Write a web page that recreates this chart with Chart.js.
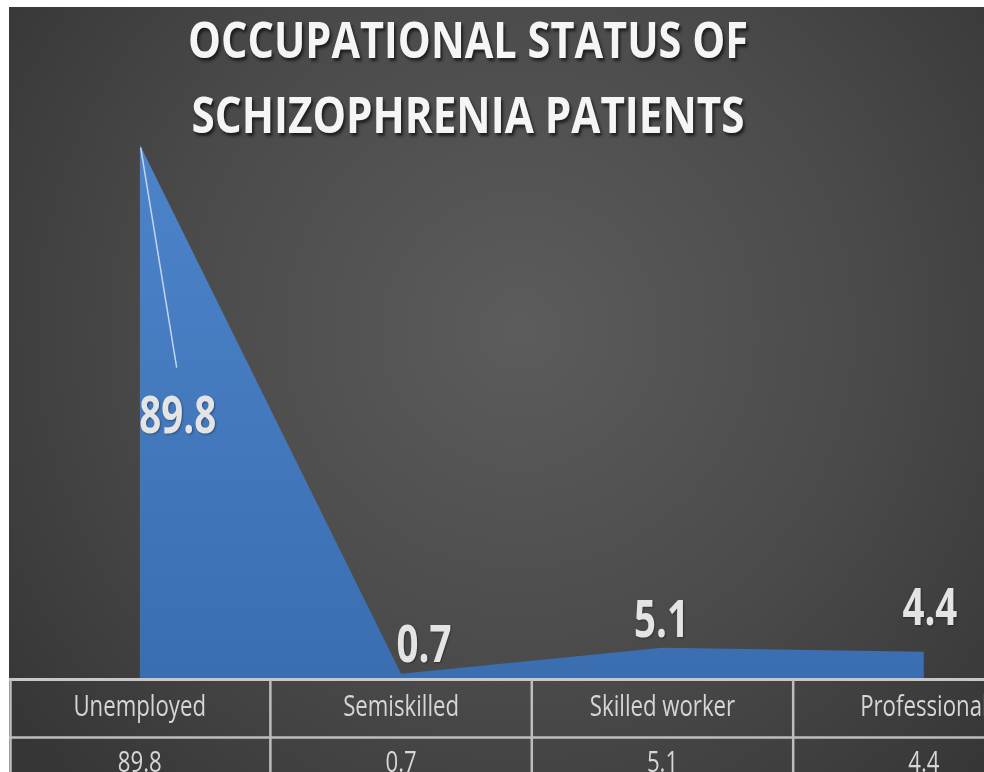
<!DOCTYPE html>
<html>
<head>
<meta charset="utf-8">
<script src="https://cdn.jsdelivr.net/npm/chart.js@4.4.0/dist/chart.umd.min.js"></script>
<style>
  html, body { margin: 0; padding: 0; background: #fff; }
  canvas { display: block; }
</style>
</head>
<body>
<canvas id="chart" width="984" height="772"></canvas>
<script>
// Data
const categories  = ['Unemployed', 'Semiskilled', 'Skilled worker', 'Professional'];
const percentages = [89.8, 0.7, 5.1, 4.4];
const titleLines  = ['OCCUPATIONAL STATUS OF', 'SCHIZOPHRENIA PATIENTS'];

const FONT = '"Open Sans", "DejaVu Sans Condensed", sans-serif';
const SQUEEZE = 0.74;   // the reference text is horizontally condensed

// draw text compressed horizontally around x
function squeezeText(ctx, text, x, y, sx) {
  ctx.save();
  ctx.translate(x, y);
  ctx.scale(sx, 1);
  ctx.fillText(text, 0, 0);
  ctx.restore();
}

// dark radial backdrop, white margin top/left like the cropped screenshot
const backdrop = {
  id: 'backdrop',
  beforeDraw(chart) {
    const { ctx, width, height } = chart;
    ctx.save();
    ctx.fillStyle = '#ffffff';
    ctx.fillRect(0, 0, width, height);
    const g = ctx.createRadialGradient(520, 330, 0, 520, 330, 640);
    g.addColorStop(0, '#5c5c5c');
    g.addColorStop(0.55, '#4a4a4a');
    g.addColorStop(1, '#363636');
    ctx.fillStyle = g;
    ctx.fillRect(9, 7, width - 9, height - 7);
    ctx.restore();
  }
};

// soft shadow under the area
const areaShadow = {
  id: 'areaShadow',
  beforeDatasetDraw(chart) {
    const ctx = chart.ctx;
    ctx.save();
    ctx.shadowColor = 'rgba(0,0,0,0.55)';
    ctx.shadowBlur = 7;
    ctx.shadowOffsetX = 3;
    ctx.shadowOffsetY = 4;
  },
  afterDatasetDraw(chart) {
    chart.ctx.restore();
  }
};

// value labels (positions follow the points, offsets mimic Excel's placement)
const LABEL_OFFSETS = [[38, 288], [23, -12], [-1, -11], [6, -27]];
const valueLabels = {
  id: 'valueLabels',
  afterDatasetsDraw(chart) {
    const { ctx } = chart;
    const pts = chart.getDatasetMeta(0).data;
    ctx.save();
    // leader line for the first label
    const p0 = pts[0];
    ctx.strokeStyle = 'rgba(215,228,245,0.85)';
    ctx.lineWidth = 1.5;
    ctx.beginPath();
    ctx.moveTo(p0.x + 1, p0.y + 3);
    ctx.lineTo(p0.x + 37, p0.y + 223);
    ctx.stroke();

    ctx.font = 'bold 52px ' + FONT;
    ctx.textAlign = 'center';
    ctx.textBaseline = 'alphabetic';
    ctx.fillStyle = '#e4e4e4';
    ctx.shadowColor = 'rgba(0,0,0,0.35)';
    ctx.shadowBlur = 2;
    ctx.shadowOffsetX = 1;
    ctx.shadowOffsetY = 1;
    pts.forEach((p, i) => {
      const [dx, dy] = LABEL_OFFSETS[i];
      squeezeText(ctx, String(percentages[i]), p.x + dx, p.y + dy, SQUEEZE);
    });
    ctx.restore();
  }
};

// title + data table under the plot
const titleAndTable = {
  id: 'titleAndTable',
  afterDraw(chart) {
    const { ctx, chartArea, width } = chart;
    const xs = chart.scales.x;
    ctx.save();

    // title
    ctx.font = 'bold 50px ' + FONT;
    ctx.textAlign = 'center';
    ctx.textBaseline = 'alphabetic';
    ctx.fillStyle = '#f5f5f5';
    ctx.shadowColor = 'rgba(0,0,0,0.6)';
    ctx.shadowBlur = 3;
    ctx.shadowOffsetX = 2;
    ctx.shadowOffsetY = 3;
    const tw = [560, 553];
    titleLines.forEach((line, i) => {
      const sx = tw[i] / ctx.measureText(line).width;
      squeezeText(ctx, line, 468, 58 + i * 75, sx);
    });
    ctx.shadowColor = 'transparent';

    // table grid
    const top = chartArea.bottom + 1.5;
    const rowH = 58;
    ctx.strokeStyle = '#c8c8c8';
    ctx.lineWidth = 3;
    ctx.beginPath();
    ctx.moveTo(9, top);
    ctx.lineTo(width, top);
    ctx.stroke();
    ctx.lineWidth = 2.5;
    ctx.strokeStyle = '#bdbdbd';
    ctx.beginPath();
    ctx.moveTo(9, top + rowH);
    ctx.lineTo(width, top + rowH);
    for (let i = 0; i <= categories.length; i++) {
      const x = Math.max(xs.getPixelForValue(i - 0.5), 10.5);
      ctx.moveTo(x, top);
      ctx.lineTo(x, chart.height);
    }
    ctx.stroke();

    // table text
    ctx.font = '30px ' + FONT;
    ctx.fillStyle = '#d6d6d6';
    categories.forEach((c, i) => {
      const x = xs.getPixelForValue(i);
      squeezeText(ctx, c, x, top + 36, SQUEEZE);
      squeezeText(ctx, String(percentages[i]), x, top + 92, SQUEEZE);
    });
    ctx.restore();
  }
};

const ctx = document.getElementById('chart').getContext('2d');
new Chart(ctx, {
  type: 'line',
  data: {
    datasets: [{
      label: 'Occupational status',
      data: percentages.map((v, i) => ({ x: i, y: v })),
      fill: 'origin',
      clip: false,
      tension: 0,
      borderWidth: 0,
      pointRadius: 0,
      backgroundColor: (c) => {
        const area = c.chart.chartArea;
        if (!area) return '#4479bf';
        const g = c.chart.ctx.createLinearGradient(0, area.top, 0, area.bottom);
        g.addColorStop(0, '#4f86cc');
        g.addColorStop(1, '#3a6eb1');
        return g;
      },
    }],
  },
  options: {
    responsive: false,
    animation: false,
    devicePixelRatio: 1,
    layout: { padding: { left: 9, right: 0, top: 84, bottom: 94 } },
    scales: {
      x: { type: 'linear', min: -0.5, max: 3.23, display: false },
      y: { min: 0, max: 100, display: false },
    },
    plugins: {
      legend: { display: false },
      tooltip: { enabled: false },
      title: { display: false },
    },
  },
  plugins: [backdrop, areaShadow, valueLabels, titleAndTable],
});
</script>
</body>
</html>
